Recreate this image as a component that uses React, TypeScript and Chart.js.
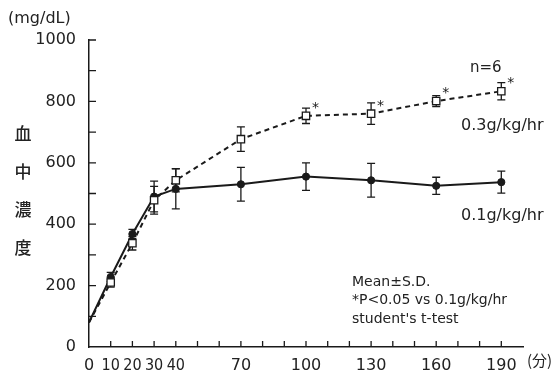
import React, { useEffect, useRef } from "react";
import { Chart, registerables } from "chart.js";
Chart.register(...registerables);

// time (min)
const times = [0, 10, 20, 30, 40, 70, 100, 130, 160, 190];
const xTickLabels = [0, 10, 20, 30, 40, 70, 100, 130, 160, 190];
// 0.3 g/kg/hr (open squares, dashed)
const highMean = [80, 210, 338, 478, 543, 677, 753, 760, 801, 833];
const highSD = [0, 15, 22, 45, 38, 40, 25, 35, 18, 28];
const highSig = [false, false, false, false, false, false, true, true, true, true];
// 0.1 g/kg/hr (filled circles, solid)
const lowMean = [80, 228, 368, 490, 515, 530, 555, 543, 525, 537];
const lowSD = [0, 15, 15, 50, 65, 55, 45, 55, 28, 36];

const NUM_FONT = "'DejaVu Sans', sans-serif";
const CJK_FONT = "'Noto Sans CJK JP', sans-serif";
const INK = "#1a1a1a";

const overlayPlugin = {
  id: "overlay",
  beforeDatasetsDraw(chart: any) {
    const ctx = chart.ctx;
    const xs = chart.scales.x;
    const ys = chart.scales.y;
    ctx.save();
    ctx.strokeStyle = INK;
    ctx.lineWidth = 1.3;
    const bars = (means: number[], sds: number[]) => {
      times.forEach((t, i) => {
        if (!sds[i]) return;
        const x = xs.getPixelForValue(t);
        const yt = ys.getPixelForValue(means[i] + sds[i]);
        const yb = ys.getPixelForValue(means[i] - sds[i]);
        ctx.beginPath();
        ctx.moveTo(x, yt);
        ctx.lineTo(x, yb);
        ctx.moveTo(x - 4, yt);
        ctx.lineTo(x + 4, yt);
        ctx.moveTo(x - 4, yb);
        ctx.lineTo(x + 4, yb);
        ctx.stroke();
      });
    };
    bars(lowMean, lowSD);
    bars(highMean, highSD);
    ctx.restore();
  },
  afterDraw(chart: any) {
    const ctx = chart.ctx;
    const xs = chart.scales.x;
    const ys = chart.scales.y;
    const { left, bottom } = chart.chartArea;
    ctx.save();
    // inward tick marks
    ctx.strokeStyle = INK;
    ctx.lineWidth = 1.3;
    ctx.beginPath();
    xs.ticks.forEach((tk: any) => {
      if (tk.value <= 0 || tk.value >= xs.max) return;
      const x = xs.getPixelForValue(tk.value);
      ctx.moveTo(x, bottom);
      ctx.lineTo(x, bottom - 6);
    });
    ys.ticks.forEach((tk: any) => {
      if (tk.value <= 0) return;
      const y = ys.getPixelForValue(tk.value);
      ctx.moveTo(left, y);
      ctx.lineTo(left + 7, y);
    });
    ctx.stroke();

    // asterisks
    ctx.fillStyle = INK;
    ctx.font = `14px ${NUM_FONT}`;
    ctx.textAlign = "left";
    ctx.textBaseline = "alphabetic";
    times.forEach((t, i) => {
      if (!highSig[i]) return;
      const x = xs.getPixelForValue(t);
      const y = ys.getPixelForValue(highMean[i]);
      ctx.fillText("*", x + 6, y - 4);
    });

    // annotations
    ctx.fillStyle = "#222";
    ctx.textBaseline = "middle";
    ctx.font = `16px ${NUM_FONT}`;
    ctx.fillText("(mg/dL)", 8, 19);
    ctx.font = `15px ${NUM_FONT}`;
    ctx.fillText("n=6", 470, 68);
    ctx.font = `16px ${NUM_FONT}`;
    ctx.fillText("0.3g/kg/hr", 461, 126);
    ctx.fillText("0.1g/kg/hr", 461, 216);
    ctx.font = `14px ${NUM_FONT}`;
    ctx.fillText("Mean±S.D.", 352, 282);
    ctx.fillText("*P<0.05 vs 0.1g/kg/hr", 352, 300);
    ctx.fillText("student's t-test", 352, 319);
    ctx.font = `15px ${CJK_FONT}`;
    ctx.fillText("(分)", 527, 360);
    // vertical y title
    ctx.font = `500 17px ${CJK_FONT}`;
    ctx.textAlign = "center";
    ["血", "中", "濃", "度"].forEach((c, i) => {
      ctx.fillText(c, 23, 134 + i * 38);
    });
    ctx.restore();
  },
};

export default function App() {
  const ref = useRef<HTMLCanvasElement>(null);
  useEffect(() => {
    document.body.style.margin = "0";
    const chart = new Chart(ref.current!, {
      type: "line",
      data: {
        datasets: [
          {
            label: "0.3g/kg/hr",
            data: times.map((t, i) => ({ x: t, y: highMean[i] })),
            borderColor: INK,
            borderWidth: 2,
            borderDash: [5, 4],
            pointStyle: "rect",
            pointRadius: times.map((t) => (t === 0 ? 0 : 5.2)),
            pointBackgroundColor: "#fff",
            pointBorderColor: INK,
            pointBorderWidth: 1.3,
            tension: 0,
          },
          {
            label: "0.1g/kg/hr",
            data: times.map((t, i) => ({ x: t, y: lowMean[i] })),
            borderColor: INK,
            borderWidth: 2,
            pointStyle: "circle",
            pointRadius: times.map((t) => (t === 0 ? 0 : 3.6)),
            pointBackgroundColor: INK,
            pointBorderColor: INK,
            pointBorderWidth: 1,
            tension: 0,
          },
        ],
      },
      options: {
        responsive: false,
        animation: false,
        devicePixelRatio: 1,
        layout: { padding: { top: 40, right: 36, left: 0, bottom: 0 } },
        plugins: { legend: { display: false }, tooltip: { enabled: false } },
        scales: {
          x: {
            type: "linear",
            min: 0,
            max: 200,
            afterFit: (s: any) => {
              s.height = 24;
            },
            grid: { display: false },
            border: { display: true, color: INK, width: 1.5 },
            ticks: {
              stepSize: 10,
              autoSkip: false,
              maxRotation: 0,
              padding: 1,
              color: "#222",
              font: (c: any) => {
                const v = c.tick ? c.tick.value : 0;
                return v > 0 && v <= 40
                  ? { family: "DejaVu Sans Condensed", size: 16 }
                  : { family: "DejaVu Sans", size: 16 };
              },
              callback: (v: any) => (xTickLabels.includes(Number(v)) ? String(v) : ""),
            },
          },
          y: {
            type: "linear",
            min: 0,
            max: 1000,
            afterFit: (s: any) => {
              s.width = 89;
            },
            grid: { display: false },
            border: { display: true, color: INK, width: 1.5 },
            ticks: {
              stepSize: 100,
              autoSkip: false,
              padding: 5,
              color: "#222",
              font: { family: "DejaVu Sans", size: 16 },
              callback: (v: any) => (Number(v) % 200 === 0 ? String(v) : ""),
            },
          },
        },
      },
      plugins: [overlayPlugin],
    } as any);
    return () => chart.destroy();
  }, []);
  return (
    <div style={{ width: 559, height: 371 }}>
      <canvas ref={ref} width={559} height={371} />
    </div>
  );
}
